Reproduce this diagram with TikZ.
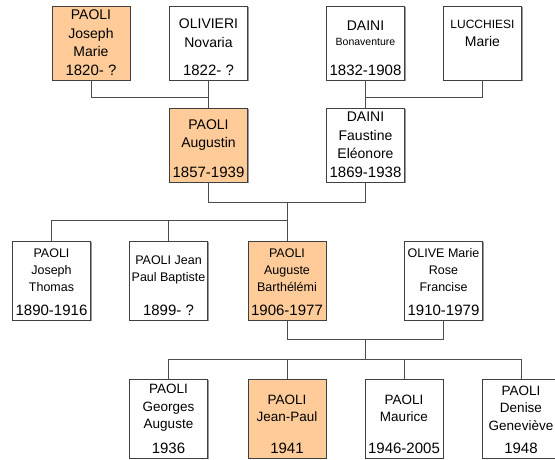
\documentclass[tikz,border=0pt]{standalone}
\usepackage{fontspec}
\setmainfont{Liberation Sans}
\usetikzlibrary{calc,shadows}
\definecolor{peche}{HTML}{FFCC99}

\begin{document}
\begin{tikzpicture}[x=1pt, y=-1pt, line width=0.9pt,
    pbox/.style={draw=black!75, fill=white, minimum width=78pt, inner sep=0pt,
      drop shadow={shadow xshift=1pt, shadow yshift=-1pt, fill=black!40, opacity=1}},
    link/.style={draw=black!70},
    nomA/.style={font=\fontsize{14}{18.5}\selectfont},
    nomB/.style={font=\fontsize{12.5}{17}\selectfont},
    nomC/.style={font=\fontsize{13.5}{17.5}\selectfont},
    datef/.style={font=\fontsize{15}{16}\selectfont}]
        % cadre (555 x 459)
        \useasboundingbox (0,0) rectangle (555,459);

        % #1 noeud, #2 x, #3 y, #4 hauteur, #5 fond, #6 style du nom, #7 noms, #8 dates
        \def\person#1#2#3#4#5#6#7#8{%
          \node[pbox, fill=#5, minimum height=#4] (#1) at (#2,#3) {};
          \node[#6, align=center, inner sep=0pt] (#1-n) at ($(#1.north)!0.37!(#1.south)$) {#7};
          \node[datef, inner sep=0pt] (#1-d) at ($(#1.south)+(0,-10)$) {#8};
        }

        % grands-parents (hauteur 74)
        \person{jm}{91}{43}{74}{peche}{nomA}{PAOLI\\Joseph\\Marie}{1820- ?}
        \person{on}{208.5}{43}{74}{white}{nomA}{OLIVIERI\\Novaria}{1822- ?}
        \person{db}{365.5}{43}{74}{white}{nomA}{DAINI\\[-3pt]{\fontsize{10.5}{12}\selectfont Bonaventure}}{1832-1908}
        \person{lm}{482.5}{43}{74}{white}{nomA}{{\fontsize{12}{14}\selectfont LUCCHIESI}\\Marie}{}

        % parents
        \person{aug}{208.5}{145}{74}{peche}{nomA}{PAOLI\\Augustin}{1857-1939}
        \person{df}{365.5}{145}{74}{white}{nomA}{DAINI\\Faustine\\Eléonore}{1869-1938}

        % enfants (hauteur 79)
        \person{jt}{51.5}{280.5}{79}{white}{nomB}{PAOLI\\Joseph\\Thomas}{1890-1916}
        \person{jpb}{168.5}{280.5}{79}{white}{nomB}{PAOLI Jean\\Paul Baptiste}{1899- ?}
        \person{ab}{287}{280.5}{79}{peche}{nomB}{PAOLI\\Auguste\\Barthélémi}{1906-1977}
        \person{om}{443.5}{280.5}{79}{white}{nomB}{OLIVE Marie\\Rose\\Francise}{1910-1979}

        % petits-enfants
        \person{ga}{168.5}{418.5}{79}{white}{nomC}{PAOLI\\Georges\\Auguste}{1936}
        \person{jp}{287}{418.5}{79}{peche}{nomC}{PAOLI\\Jean-Paul}{1941}
        \person{ma}{404}{418.5}{79}{white}{nomC}{PAOLI\\Maurice}{1946-2005}
        \person{dg}{521}{418.5}{79}{white}{nomC}{PAOLI\\Denise\\Geneviève}{1948}

        % couples du haut
        \draw[link] (jm.south) -- ++(0,17) -| (on.south);
        \draw[link] (on.south) -- (aug.north);
        \draw[link] (db.south) -- ++(0,17) -| (lm.south);
        \draw[link] (db.south) -- (df.north);

        % Augustin + Faustine
        \draw[link] (aug.south) -- ++(0,20) -| (df.south);
        \draw[link] ($(aug.south)!0.5!(df.south)+(0,20)$) -- (ab.north);
        \draw[link] (jt.north) -- ++(0,-20) -| (ab.north);
        \draw[link] (jpb.north) -- ++(0,-20);

        % Auguste + Marie Rose
        \draw[link] (ab.south) -- ++(0,19) -| (om.south);
        \draw[link] ($(ab.south)!0.5!(om.south)+(0,19)$) -- ++(0,21);
        \draw[link] (ga.north) -- ++(0,-19) -| (dg.north);
        \draw[link] (jp.north) -- ++(0,-19);
        \draw[link] (ma.north) -- ++(0,-19);
    \end{tikzpicture}
\end{document}
